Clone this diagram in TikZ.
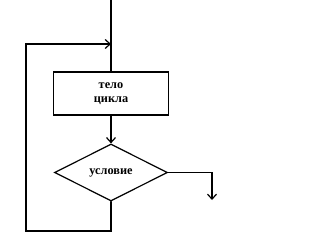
\documentclass[tikz,border=0pt]{standalone}
\usepackage{fontspec}
\setmainfont{Liberation Serif}
\usetikzlibrary{shapes.geometric,arrows.meta,positioning}

\begin{document}
\begin{tikzpicture}[x=1pt,y=-1pt,line width=1.2pt,line cap=round,
  >={Straight Barb[length=5pt,width=9pt]},
  blockbox/.style={draw,minimum width=115pt,minimum height=43pt,inner sep=0pt,align=center,
    font=\fontsize{12.3}{14.5}\selectfont\bfseries},
  condbox/.style={draw,diamond,aspect=2,inner sep=0pt,minimum width=113pt,minimum height=57pt,
    font=\fontsize{12.3}{14.5}\selectfont\bfseries}]
  \useasboundingbox (0,0) rectangle (312,238);
  \coordinate (top) at (111,0);\coordinate (loop) at (111,44);
  \coordinate (bl) at (26,231);\coordinate (exit) at (212,200);
  \node[blockbox] (body) at (111,93.5) {тело\\цикла};
  \node[condbox] (cond) at (111,172.5) {условие};
  \draw (top) -- (body.north);
  \draw[->] (body) -- (cond);
  \draw[->] (cond.east) -| (exit);
  \draw[->] (cond.south) |- (bl) |- (loop);
\end{tikzpicture}
\end{document}
